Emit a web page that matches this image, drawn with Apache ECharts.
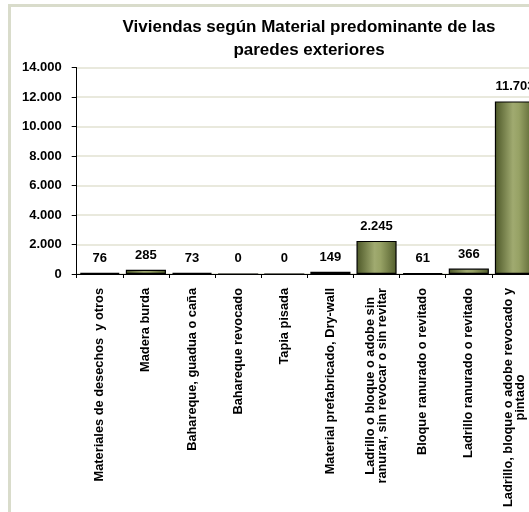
<!DOCTYPE html>
<html>
<head>
<meta charset="utf-8">
<script src="https://cdn.jsdelivr.net/npm/echarts@6/dist/echarts.min.js"></script>
<style>
    html, body { margin: 0; padding: 0; background: #fff; overflow: hidden; }
    #chart { width: 538px; height: 512px; }
</style>
</head>
<body>
<div id="chart"></div>
<script>
const categories = [
    'Materiales de desechos  y otros',
    'Madera burda',
    'Bahareque, guadua o caña',
    'Bahareque revocado',
    'Tapia pisada',
    'Material prefabricado, Dry-wall',
    'Ladrillo o bloque o adobe sin\nranurar, sin revocar o sin revitar',
    'Bloque ranurado o revitado',
    'Ladrillo ranurado o revitado',
    'Ladrillo, bloque o adobe revocado y\npintado'
];
const viviendas = [76, 285, 73, 0, 0, 149, 2245, 61, 366, 11703];
const yTicks = [0, 2000, 4000, 6000, 8000, 10000, 12000, 14000];

const fmt = v => String(v).replace(/\B(?=(\d{3})+(?!\d))/g, '.');

let chart = echarts.init(document.getElementById('chart'));

let barColor = new echarts.graphic.LinearGradient(0, 0, 1, 0, [
    { offset: 0, color: '#4c5727' },
    { offset: 0.45, color: '#a0aa70' },
    { offset: 0.6, color: '#97a265' },
    { offset: 1, color: '#525d2c' }
]);

let option = {
    backgroundColor: '#fff',
    animation: false,
    textStyle: { fontFamily: 'Liberation Sans, Arial, sans-serif' },
    title: {
        text: 'Viviendas según Material predominante de las\nparedes exteriores',
        left: 304,
        top: 11,
        textAlign: 'center',
        textStyle: { fontSize: 17, fontWeight: 'bold', color: '#000', lineHeight: 23 }
    },
    graphic: [
        { type: 'rect', shape: { x: 8, y: 4, width: 3, height: 520 }, style: { fill: '#d9dccb' }, silent: true },
        { type: 'rect', shape: { x: 8, y: 4, width: 540, height: 3 }, style: { fill: '#d9dccb' }, silent: true }
    ],
    grid: { left: 76.7, top: 67.5, right: 0, height: 206.5 },
    xAxis: {
        type: 'category',
        data: categories,
        axisLine: { lineStyle: { color: '#000', width: 1 } },
        axisTick: { show: true, length: 4, lineStyle: { color: '#000' } },
        axisLabel: {
            interval: 0,
            rotate: 90,
            margin: 14,
            formatter: v => v.split('\n').map(l => '{c|' + l + '}').join('\n'),
            rich: {
                c: { align: 'center', fontSize: 12.8, fontWeight: 'bold', color: '#000', lineHeight: 12 }
            }
        }
    },
    yAxis: {
        type: 'value',
        min: 0,
        max: 14000,
        interval: 2000,
        axisLine: { show: true, lineStyle: { color: '#000', width: 1 } },
        axisTick: { show: true, length: 5, lineStyle: { color: '#000' } },
        axisLabel: {
            margin: 15,
            fontSize: 13,
            fontWeight: 'bold',
            color: '#000',
            formatter: v => yTicks.includes(v) ? fmt(v) : ''
        },
        splitLine: { show: true, lineStyle: { color: '#e2e2d2', width: 1.5 } }
    },
    series: [
        {
            type: 'bar',
            data: viviendas,
            barCategoryGap: '13%',
            itemStyle: { color: barColor, borderColor: '#000', borderWidth: 1.2 },
            label: {
                show: true,
                position: 'top',
                distance: 8,
                fontSize: 13,
                fontWeight: 'bold',
                color: '#000',
                formatter: p => fmt(p.value)
            }
        }
    ]
};

option && chart.setOption(option);
</script>
</body>
</html>
